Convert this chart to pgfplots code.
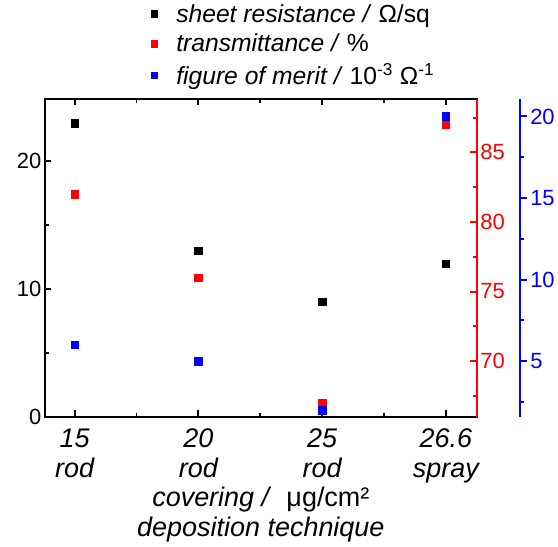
\documentclass[border=0pt]{standalone}
\usepackage{pgfplots}
\pgfplotsset{compat=1.18}
\usepackage{fontspec}
\setmainfont{Liberation Sans}
\definecolor{pR}{RGB}{255,0,0}
\definecolor{pB}{RGB}{0,0,255}
\begin{document}
\begin{tikzpicture}
\path (0pt,0pt) rectangle (558pt,-547pt);
\pgfplotsset{
  base/.style={
    scale only axis, width=432.5pt, height=318.3pt,
    at={(45pt,-417.3pt)}, anchor=south west,
    xmin=-0.24, xmax=3.25,
    /pgf/number format/assume math mode=true,
    major tick length=6.5pt, minor tick length=4pt,
    tick label style={font=\fontsize{22}{26}\selectfont},
    clip=false,
  },
  sq/.style={only marks, mark=square*, mark size=3.8pt, mark options={line width=0.4pt}},
}
\begin{axis}[base,
  ymin=0, ymax=24.9,
  ytick={0,10,20}, minor ytick={5,15},
  ytick pos=left, xtick pos=both,
  tick align=inside,
  xtick={0,1,2,3}, minor xtick={0.5,1.5,2.5},
  xticklabels={15\\rod, 20\\rod, 25\\rod, 26.6\\spray},
  xticklabel style={align=center, yshift=-8.5pt, font=\itshape\fontsize{27}{30}\selectfont},
  xlabel={\textit{covering /}\ \ μg/cm²\\\textit{deposition technique}},
  xlabel style={align=center, yshift=3pt, font=\fontsize{27}{30}\selectfont},
  axis line style={line width=2.2pt},
  every tick/.style={black, line width=2pt},
  legend style={at={(0.2382,1.311)}, anchor=north west, draw=none, fill=none,
    font=\fontsize{24.7}{29}\selectfont, row sep=6.5pt},
  legend cell align=left,
  legend image code/.code={\draw[#1, mark size=3.3pt] plot coordinates {(0.3cm,0cm)};
    \path[draw=none, fill=none] (0.3cm,0cm) -- ++(20pt,0pt);},
]
\addplot[sq, black] coordinates {(0,23) (1,13) (2,9) (3,12)};
\addlegendentry{\textit{sheet resistance /} Ω/sq}
\addlegendimage{sq, pR}
\addlegendentry{\textit{transmittance /} \%}
\addlegendimage{sq, pB}
\addlegendentry{\textit{figure of merit /} 10\textsuperscript{-3} Ω\textsuperscript{-1}}
\end{axis}
\begin{axis}[base,
  ymin=66, ymax=88.85,
  axis x line=none, axis y line*=right,
  ytick={70,75,80,85}, minor ytick={67.5,72.5,77.5,82.5,87.5},
  tick align=inside,
  y axis line style={pR, line width=2.5pt},
  every tick/.style={pR, line width=2pt},
  yticklabel style={pR},
]
\addplot[sq, pR] coordinates {(0,82) (1,76) (2,67) (3,87)};
\end{axis}
\begin{axis}[base, at={(88.5pt,-417.3pt)},
  ymin=1.6, ymax=21.08,
  axis x line=none, axis y line*=right,
  ytick={5,10,15,20}, minor ytick={2.5,7.5,12.5,17.5},
  tick align=outside,
  y axis line style={pB, line width=2.5pt},
  every tick/.style={pB, line width=2pt},
  yticklabel style={pB},
]
\end{axis}
\begin{axis}[base,
  ymin=1.6, ymax=21.08,
  axis x line=none, axis y line=none,
]
\addplot[sq, pB] coordinates {(0,6) (1,5) (2,2) (3,20)};
\end{axis}
\end{tikzpicture}
\end{document}
